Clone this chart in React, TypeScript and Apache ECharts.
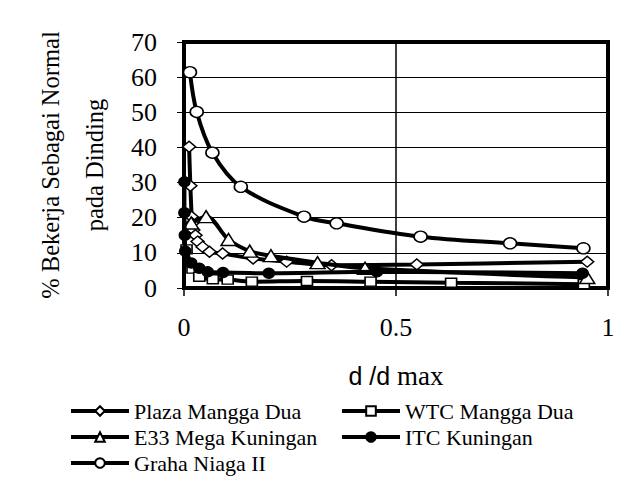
import React, { useEffect, useRef } from "react";
import * as echarts from "echarts";

const seriesNames = [
  "Plaza Mangga Dua",
  "WTC Mangga Dua",
  "E33 Mega Kuningan",
  "ITC Kuningan",
  "Graha Niaga II",
];

const plazaX = [0.012, 0.015, 0.018, 0.019, 0.022, 0.027, 0.032, 0.044, 0.06, 0.091, 0.163, 0.242, 0.348, 0.549, 0.951];
const plazaY = [40.2, 29.1, 20.3, 18.4, 16.5, 15.0, 13.2, 11.7, 10.3, 9.8, 8.4, 7.5, 6.5, 6.7, 7.5];

const wtcX = [0.006, 0.02, 0.036, 0.068, 0.103, 0.16, 0.29, 0.44, 0.63, 0.943];
const wtcY = [11.0, 5.5, 3.2, 2.5, 2.4, 1.8, 2.0, 1.8, 1.5, 1.1];

const e33X = [0.017, 0.052, 0.105, 0.155, 0.205, 0.315, 0.427, 0.951];
const e33Y = [18.5, 20.3, 13.8, 10.5, 9.2, 7.2, 5.6, 3.0];

const itcX = [0.001, 0.001, 0.002, 0.003, 0.017, 0.036, 0.056, 0.092, 0.2, 0.455, 0.94];
const itcY = [30.2, 21.4, 15.0, 10.5, 7.1, 5.6, 4.6, 4.4, 4.2, 4.6, 4.2];

const grahaX = [0.014, 0.03, 0.067, 0.134, 0.283, 0.36, 0.558, 0.769, 0.942];
const grahaY = [61.4, 50.1, 38.5, 28.8, 20.3, 18.4, 14.6, 12.7, 11.3];

const yTicks = [0, 10, 20, 30, 40, 50, 60, 70];
const xTicks = [0, 0.5, 1];

const zip = (xs: number[], ys: number[]) => xs.map((x, i) => [x, ys[i]]);

const SERIF = "Liberation Serif";
const SANS = "Liberation Sans";

export default function App() {
  const ref = useRef<HTMLDivElement>(null);

  useEffect(() => {
    if (!ref.current) return;
    const chart = echarts.init(ref.current, undefined, { renderer: "svg" });

    const mk = (
      name: string,
      data: number[][],
      symbol: string,
      size: number[],
      fill: string,
      z: number
    ) => ({
      name,
      type: "line",
      data,
      smooth: 0.35,
      symbol,
      symbolSize: size,
      showSymbol: true,
      z,
      lineStyle: { color: "#000", width: 4 },
      itemStyle: { color: fill, borderColor: "#000", borderWidth: 1.5 },
      emphasis: { disabled: true },
    });

    const legendCommon = {
      orient: "vertical",
      top: 400,
      padding: 0,
      itemHeight: 12,
      itemGap: 4,
      lineStyle: { width: 4, color: "#000" },
      textStyle: { color: "#000", fontFamily: SERIF, fontSize: 22, lineHeight: 21 },
    };

    chart.setOption({
      animation: false,
      backgroundColor: "#fff",
      grid: {
        left: 184,
        right: 33,
        top: 42,
        bottom: 206,
        show: true,
        borderColor: "#000",
        borderWidth: 4,
        backgroundColor: "transparent",
      },
      xAxis: {
        type: "value",
        min: xTicks[0],
        max: xTicks[xTicks.length - 1],
        interval: 0.5,
        axisLine: { show: true, lineStyle: { color: "#000", width: 3 } },
        axisTick: { show: true, inside: false, length: 8, lineStyle: { color: "#000", width: 1.5 } },
        splitLine: { show: true, lineStyle: { color: "#000", width: 1.5 } },
        axisLabel: { color: "#000", fontFamily: SERIF, fontSize: 26, margin: 26 },
        name: "{s|d /d }{m|max}",
        nameLocation: "middle",
        nameGap: 74,
        nameTextStyle: {
          rich: {
            s: { fontFamily: SANS, fontSize: 25, color: "#000" },
            m: { fontFamily: SERIF, fontSize: 27, color: "#000" },
          },
        },
      },
      yAxis: {
        type: "value",
        min: yTicks[0],
        max: yTicks[yTicks.length - 1],
        interval: 10,
        axisLine: { show: true, lineStyle: { color: "#000", width: 4 } },
        axisTick: { show: true, inside: false, length: 7, lineStyle: { color: "#000", width: 1 } },
        splitLine: { show: true, lineStyle: { color: "#000", width: 1.2 } },
        axisLabel: { color: "#000", fontFamily: SERIF, fontSize: 26, margin: 27 },
        name: "% Bekerja Sebagai Normal\npada Dinding",
        nameLocation: "middle",
        nameGap: 68,
        nameTextStyle: { color: "#000", fontFamily: SERIF, fontSize: 24.5, lineHeight: 44 },
      },
      legend: [
        {
          ...legendCommon,
          left: 69,
          itemWidth: 58,
          data: [seriesNames[0], seriesNames[2], seriesNames[4]],
        },
        {
          ...legendCommon,
          left: 340,
          itemWidth: 58,
          data: [seriesNames[1], seriesNames[3]],
        },
      ],
      series: [
        mk(seriesNames[0], zip(plazaX, plazaY), "diamond", [13, 11], "#fff", 2),
        mk(seriesNames[1], zip(wtcX, wtcY), "rect", [11, 9], "#fff", 3),
        mk(seriesNames[2], zip(e33X, e33Y), "triangle", [15, 12], "#fff", 4),
        mk(seriesNames[3], zip(itcX, itcY), "circle", [11, 10], "#000", 5),
        mk(seriesNames[4], zip(grahaX, grahaY), "circle", [13, 11], "#fff", 6),
      ],
    });

    return () => chart.dispose();
  }, []);

  return (
    <div
      ref={ref}
      style={{ position: "fixed", left: 0, top: 0, width: 641, height: 494, background: "#fff" }}
    />
  );
}
